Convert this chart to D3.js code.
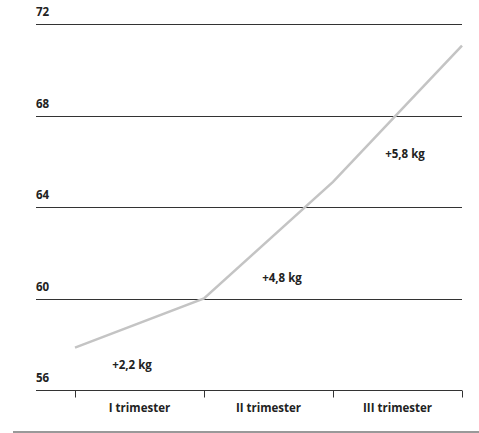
<!DOCTYPE html>
<html>
<head>
<meta charset="utf-8">
<script src="https://cdn.jsdelivr.net/npm/d3@7"></script>
<style>
  body { margin: 0; background: #fff; }
  text { font-family: "Open Sans", sans-serif; font-weight: 700; fill: #222; }
</style>
</head>
<body>
<div id="chart"></div>
<script>
// weight over pregnancy, kg
const stages = [0, 1, 2, 3];
const weights = [57.85, 60.0, 65.1, 71.05];
const trimesters = ["I trimester", "II trimester", "III trimester"];
const yTicks = [56, 60, 64, 68, 72];
const gains = ["+2,2 kg", "+4,8 kg", "+5,8 kg"];
const gainLevels = [56.9, 60.7, 66.15];

const width = 479, height = 433;
const left = 36, right = 462;

const svg = d3.select("#chart").append("svg")
    .attr("width", width)
    .attr("height", height);

const x = d3.scaleLinear().domain([0, 3]).range([75, right]);
const y = d3.scaleLinear().domain([56, 72]).range([390, 24]);

// horizontal grid lines with labels above
const grid = svg.append("g");
yTicks.forEach(v => {
    const yy = Math.round(y(v)) + 0.5;
    grid.append("line")
        .attr("x1", left).attr("x2", right)
        .attr("y1", yy).attr("y2", yy)
        .attr("stroke", "#333")
        .attr("stroke-width", 1);
    grid.append("text")
        .attr("x", left)
        .attr("y", yy - 9)
        .style("font-size", "11.5px")
        .text(v);
});

// ticks on the bottom axis
const yBase = Math.round(y(56)) + 0.5;
stages.forEach(s => {
    const xx = Math.round(x(s)) + 0.5;
    svg.append("line")
        .attr("x1", xx).attr("x2", xx)
        .attr("y1", yBase).attr("y2", yBase + 7)
        .attr("stroke", "#333");
});

svg.selectAll(".cat")
    .data(trimesters)
    .enter()
    .append("text")
    .attr("class", "cat")
    .attr("x", (d, i) => x(i + 0.5))
    .attr("y", 412)
    .attr("text-anchor", "middle")
    .style("font-size", "11.5px")
    .text(d => d);

// the weight line
const line = d3.line()
    .x((d, i) => x(stages[i]))
    .y(d => y(d));

svg.append("path")
    .datum(weights)
    .attr("fill", "none")
    .attr("stroke", "#c4c4c4")
    .attr("stroke-width", 2.5)
    .attr("d", line);

// gain labels
const gainX = [132, 282, 405];
svg.selectAll(".gain")
    .data(gains)
    .enter()
    .append("text")
    .attr("class", "gain")
    .attr("x", (d, i) => gainX[i])
    .attr("y", (d, i) => y(gainLevels[i]))
    .attr("text-anchor", "middle")
    .style("font-size", "11.5px")
    .text(d => d);

// bottom rule
svg.append("line")
    .attr("x1", 13).attr("x2", width)
    .attr("y1", 432).attr("y2", 432)
    .attr("stroke", "#999")
    .attr("stroke-width", 2);
</script>
</body>
</html>
